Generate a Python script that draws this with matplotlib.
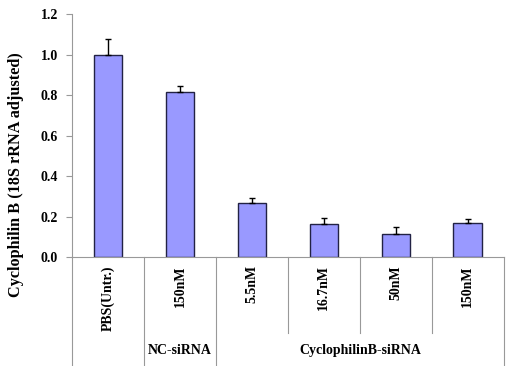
import numpy as np
import matplotlib
matplotlib.use('Agg')
from matplotlib import pyplot as plt
from matplotlib import transforms

conditions = ['PBS(Untr.)', '150nM', '5.5nM', '16.7nM', '50nM', '150nM']
values = [1.0, 0.813, 0.267, 0.164, 0.115, 0.166]
errors = [0.076, 0.032, 0.026, 0.027, 0.031, 0.024]
groups = ['NC-siRNA', 'CyclophilinB-siRNA']
group_centers = [1, 3.5]
yticks = [0.0, 0.2, 0.4, 0.6, 0.8, 1.0, 1.2]

plt.rcParams['font.family'] = ['Liberation Serif', 'DejaVu Serif']
plt.rcParams['font.weight'] = 'bold'

fig = plt.figure(figsize=(5.2, 3.66), dpi=100)
ax = fig.add_axes([0.1385, 0.2978, 0.8305, 0.6639])

x = np.arange(len(values))
ax.bar(x, values, width=0.4, color='#9999ff', edgecolor='#222244', linewidth=1.0, zorder=2)
ax.errorbar(x, values, yerr=[np.zeros(len(errors)), errors], fmt='none',
            ecolor='black', elinewidth=1.0, capsize=2.5, capthick=1.0, zorder=3)

ax.set_xlim(-0.5, len(values) - 0.5)
ax.set_ylim(0, 1.2)
ax.set_yticks(yticks)
ax.set_yticklabels(['%.1f' % v for v in yticks], fontsize=10, fontweight='bold')
ax.tick_params(axis='y', length=4, color='#999999', width=0.8, pad=6)

ax.set_xticks(x)
ax.set_xticklabels(conditions, rotation=90, va='top', ha='center', fontsize=10, fontweight='bold')
ax.tick_params(axis='x', length=0, pad=6)

for s in ['top', 'right']:
    ax.spines[s].set_visible(False)
for s in ['left', 'bottom']:
    ax.spines[s].set_color('#999999')
    ax.spines[s].set_linewidth(0.8)

ax.set_ylabel('Cyclophilin B (18S rRNA adjusted)', fontsize=11.7, fontweight='bold')
ax.yaxis.set_label_coords(-0.111, 0.34)

# category separators below the axis
trans = transforms.blended_transform_factory(ax.transData, ax.transAxes)
bounds = np.arange(len(values) + 1) - 0.5
long_lines = [0, 1, 2, 6]
for i, b in enumerate(bounds):
    bottom = -0.46 if i in long_lines else -0.313
    ax.plot([b, b], [0, bottom], transform=trans, color='#999999', lw=0.8, clip_on=False)

for g, c in zip(groups, group_centers):
    ax.text(c, -0.383, g, transform=trans, ha='center', va='center', fontsize=10, fontweight='bold')

fig.savefig('out.png', dpi=100)
